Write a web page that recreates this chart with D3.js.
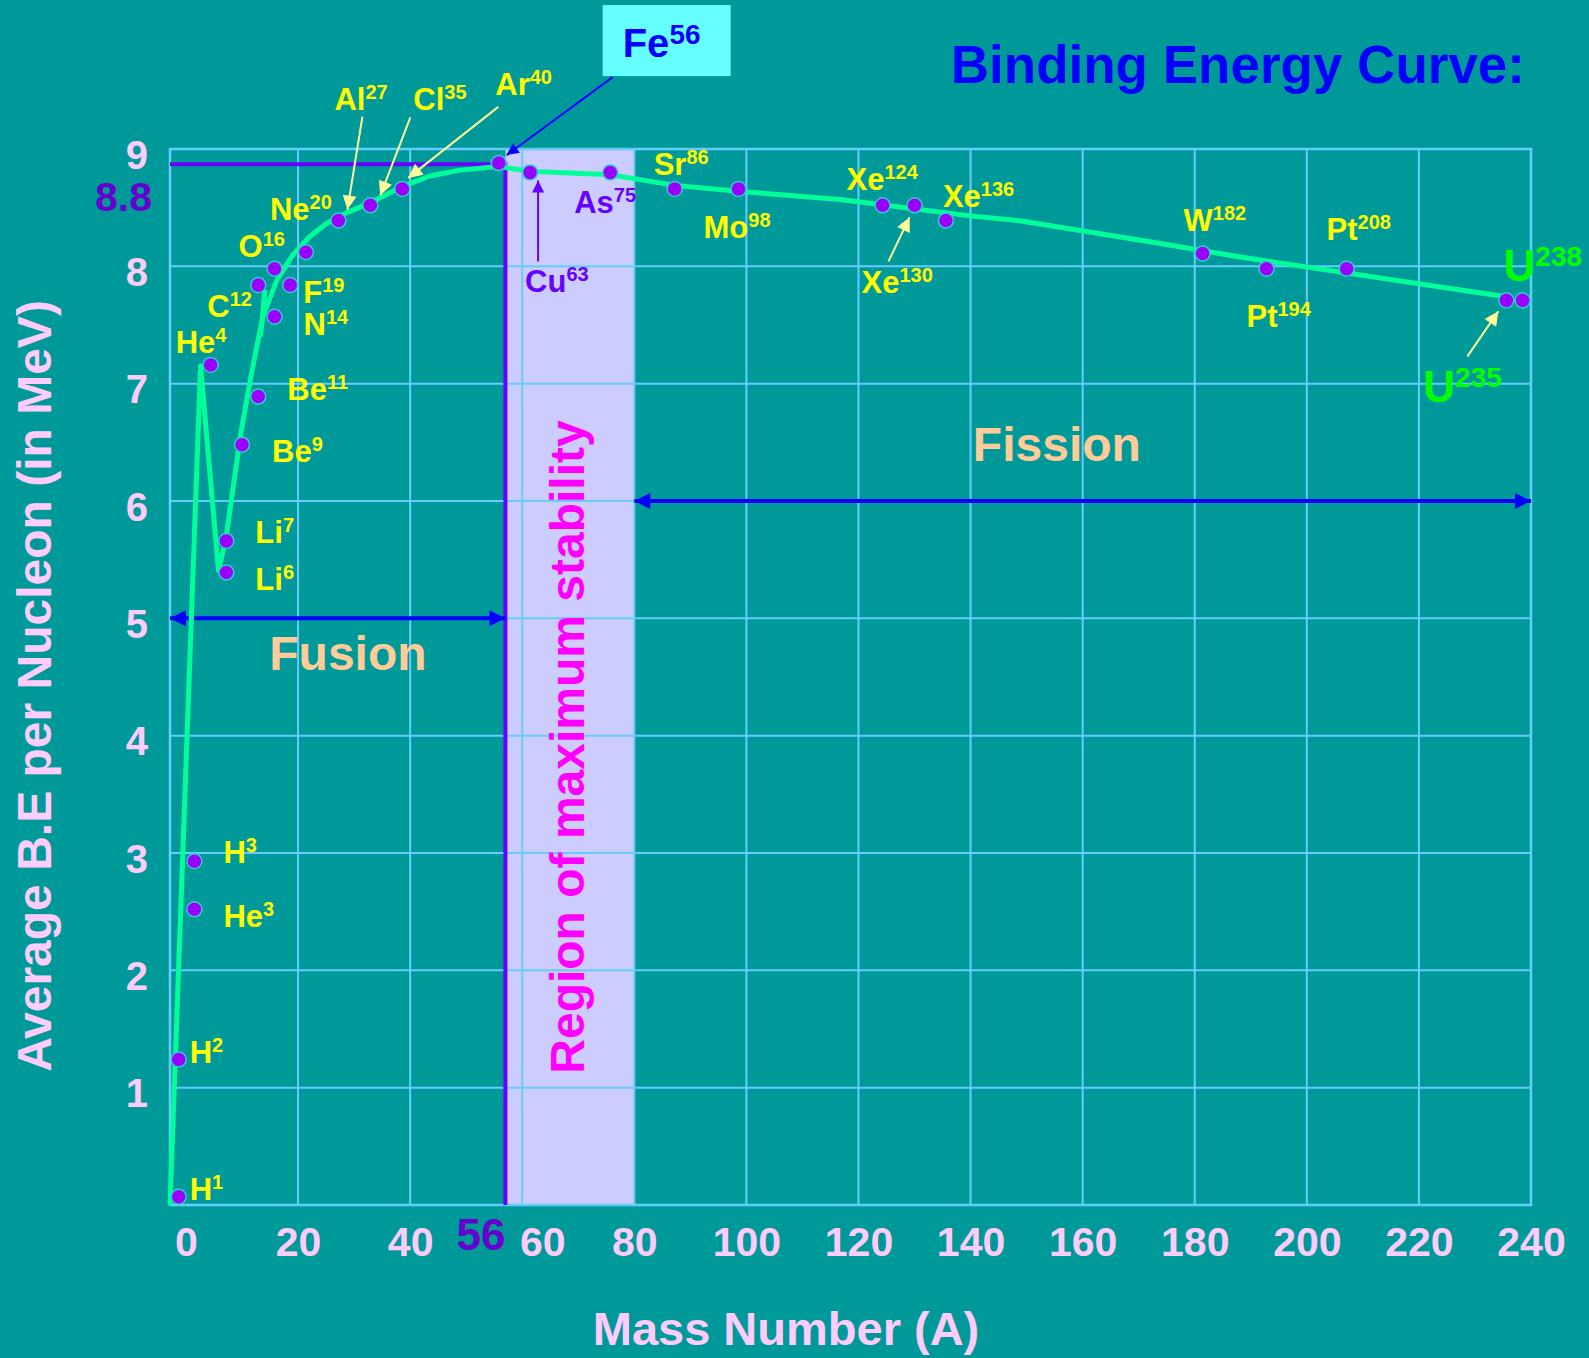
<!DOCTYPE html>
<html>
<head>
<meta charset="utf-8">
<script src="https://cdn.jsdelivr.net/npm/d3@7"></script>
<style>
  body { margin: 0; background: #009999; }
  svg { display: block; font-family: "Liberation Sans", Arial, sans-serif; font-weight: bold; }
</style>
</head>
<body>
<svg id="chart" width="1589" height="1358"></svg>
<script>
// isotopes shown on the curve
var elements = ["H", "H", "H", "He", "He", "Li", "Li", "Be", "Be", "C", "N", "O", "F", "Ne", "Al", "Cl", "Ar",
  "Fe", "Cu", "As", "Sr", "Mo", "Xe", "Xe", "Xe", "W", "Pt", "Pt", "U", "U"];
var massNumbers = [1, 2, 3, 3, 4, 6, 7, 9, 11, 12, 14, 16, 19, 20, 27, 35, 40,
  56, 63, 75, 86, 98, 124, 130, 136, 182, 194, 208, 235, 238];
// where each dot sits along the x axis in the figure
var plotMass = [-1.3, -1.3, 1.5, 1.5, 4.4, 7.2, 7.2, 10.0, 12.9, 12.9, 15.8, 15.8, 18.6, 21.4, 27.2, 32.9, 38.6,
  55.8, 61.4, 75.7, 87.2, 98.6, 124.3, 130.0, 135.6, 181.4, 192.8, 207.1, 235.6, 238.5];
var bindingEnergy = [0.07, 1.24, 2.93, 2.52, 7.16, 5.39, 5.66, 6.48, 6.89, 7.84, 7.57, 7.98, 7.84, 8.12, 8.39, 8.52, 8.66,
  8.88, 8.80, 8.80, 8.66, 8.66, 8.52, 8.52, 8.39, 8.11, 7.98, 7.98, 7.71, 7.71];

// the hand drawn green curve
var curveMass = [-2.85, 2.6, 5.8, 7.1, 9.8, 11.7, 13.7, 16.2, 19.1, 22.0, 25.2, 28.8, 32.8, 38.6, 43.5, 48.9, 55.8,
  61.4, 75.7, 87.2, 98.6, 116.7, 139.9, 148.5, 172, 188.1, 235.5];
var curveEnergy = [0, 7.15, 5.41, 5.67, 6.58, 7.09, 7.57, 7.88, 8.10, 8.25, 8.37, 8.46, 8.54, 8.68, 8.77, 8.82, 8.85,
  8.81, 8.78, 8.69, 8.64, 8.57, 8.43, 8.39, 8.21, 8.08, 7.74];
var stubMass = [13.3, 14.1];
var stubEnergy = [7.4, 7.8];

var xTicks = [0, 20, 40, 60, 80, 100, 120, 140, 160, 180, 200, 220, 240];
var yTicks = [1, 2, 3, 4, 5, 6, 7, 8, 9];
var peakEnergy = 8.87;
var ironLine = 57, stableEnd = 80;

var svg = d3.select("#chart"),
  W = +svg.attr("width"), H = +svg.attr("height");

var x = d3.scaleLinear().domain([-2.85, 240]).range([170, 1531]);
var y = d3.scaleLinear().domain([0, 9]).range([1205, 149]);

var grid = "#66ccff", pink = "#ffccff", purple = "#6600ff", yellow = "#ffff00", pale = "#ffff99";

svg.append("rect").attr("width", W).attr("height", H).attr("fill", "#009999");

// arrow heads
var defs = svg.append("defs");
function head(id, color, w, h) {
  defs.append("marker").attr("id", id)
    .attr("viewBox", "0 0 10 10").attr("refX", 10).attr("refY", 5)
    .attr("markerUnits", "userSpaceOnUse")
    .attr("markerWidth", w).attr("markerHeight", h)
    .attr("orient", "auto-start-reverse")
    .append("path").attr("d", "M0,0L10,5L0,10z").attr("fill", color);
}
head("big", "#0000ff", 18, 16);
head("blue", "#0000ff", 16, 12);
head("purp", purple, 14, 12);
head("pale", pale, 16, 14);

// region of maximum stability
svg.append("rect")
  .attr("x", x(ironLine)).attr("y", y(9))
  .attr("width", x(stableEnd) - x(ironLine)).attr("height", y(0) - y(9))
  .attr("fill", "#ccccff");

// grid
svg.append("g").selectAll("line").data(xTicks.slice(1, -1)).enter().append("line")
  .attr("x1", x).attr("x2", x).attr("y1", y(0)).attr("y2", y(9))
  .attr("stroke", grid).attr("stroke-width", 2);
svg.append("g").selectAll("line").data(yTicks.slice(0, -1)).enter().append("line")
  .attr("x1", x(-2.85)).attr("x2", x(240)).attr("y1", y).attr("y2", y)
  .attr("stroke", grid).attr("stroke-width", 2);
svg.append("rect")
  .attr("x", x(-2.85)).attr("y", y(9))
  .attr("width", x(240) - x(-2.85)).attr("height", y(0) - y(9))
  .attr("fill", "none").attr("stroke", grid).attr("stroke-width", 2.5);

// axes
var xAxis = svg.append("g").attr("transform", "translate(0," + y(0) + ")")
  .call(d3.axisBottom(x).tickValues(xTicks).tickSize(0).tickPadding(22));
var yAxis = svg.append("g").attr("transform", "translate(" + x(-2.85) + ",0)")
  .call(d3.axisLeft(y).tickValues(yTicks).tickSize(0).tickPadding(22));
[xAxis, yAxis].forEach(function(a) {
  a.select(".domain").remove();
  a.selectAll("text").attr("fill", pink).attr("font-family", "Liberation Sans, Arial, sans-serif")
    .attr("font-weight", "bold");
});
xAxis.selectAll("text").attr("font-size", 41)
  .attr("dx", function(d) { return d === 60 ? 20 : 0; });
yAxis.selectAll("text").attr("font-size", 40).attr("dy", "0.48em");

svg.append("text").attr("x", x(ironLine)).attr("y", 1250)
  .attr("text-anchor", "end").attr("font-size", 44).attr("fill", "#6600cc").text("56");
svg.append("text").attr("x", 152).attr("y", y(peakEnergy) + 47)
  .attr("text-anchor", "end").attr("font-size", 41).attr("fill", "#6600cc").text("8.8");

// axis titles
svg.append("text").attr("x", 786).attr("y", 1345)
  .attr("text-anchor", "middle").attr("font-size", 47).attr("fill", pink).text("Mass Number (A)");
svg.append("text").attr("transform", "translate(51,686)rotate(-90)")
  .attr("text-anchor", "middle").attr("font-size", 48).attr("fill", pink)
  .text("Average B.E per Nucleon (in MeV)");
svg.append("text").attr("x", 1525).attr("y", 83)
  .attr("text-anchor", "end").attr("font-size", 53).attr("fill", "#0000ff").text("Binding Energy Curve:");

// peak markers
svg.append("line")
  .attr("x1", x(-2.85)).attr("x2", x(ironLine) - 3).attr("y1", y(peakEnergy)).attr("y2", y(peakEnergy))
  .attr("stroke", purple).attr("stroke-width", 4);
svg.append("line")
  .attr("x1", x(ironLine)).attr("x2", x(ironLine)).attr("y1", y(peakEnergy) - 2).attr("y2", y(0))
  .attr("stroke", purple).attr("stroke-width", 4);

svg.append("text").attr("transform", "translate(584,747)rotate(-90)")
  .attr("text-anchor", "middle").attr("font-size", 48).attr("fill", "#ff00ff")
  .text("Region of maximum stability");

// fusion / fission
svg.append("line")
  .attr("x1", x(-2.85)).attr("x2", x(ironLine)).attr("y1", y(5)).attr("y2", y(5))
  .attr("stroke", "#0000ff").attr("stroke-width", 4)
  .attr("marker-start", "url(#big)").attr("marker-end", "url(#big)");
svg.append("line")
  .attr("x1", x(stableEnd)).attr("x2", x(240)).attr("y1", y(6)).attr("y2", y(6))
  .attr("stroke", "#0000ff").attr("stroke-width", 4)
  .attr("marker-start", "url(#big)").attr("marker-end", "url(#big)");
svg.append("text").attr("x", x(28.9)).attr("y", 670).attr("text-anchor", "middle")
  .attr("font-size", 48).attr("fill", "#ffcc99").text("Fusion");
svg.append("text").attr("x", x(155.4)).attr("y", 461).attr("text-anchor", "middle")
  .attr("font-size", 48).attr("fill", "#ffcc99").text("Fission");

// curve
var line = d3.line()
  .x(function(d) { return x(d[0]); })
  .y(function(d) { return y(d[1]); });
svg.append("path").datum(d3.zip(curveMass, curveEnergy)).attr("d", line)
  .attr("fill", "none").attr("stroke", "#00ff99").attr("stroke-width", 5).attr("stroke-linejoin", "round");
svg.append("path").datum(d3.zip(stubMass, stubEnergy)).attr("d", line)
  .attr("fill", "none").attr("stroke", "#00ff99").attr("stroke-width", 5);

// points
var pts = elements.map(function(e, i) {
  return { el: e, a: massNumbers[i], px: x(plotMass[i]), py: y(bindingEnergy[i]) };
});
svg.append("g").selectAll("circle").data(pts).enter().append("circle")
  .attr("cx", function(d) { return d.px; }).attr("cy", function(d) { return d.py; })
  .attr("r", 7.5).attr("fill", "#9900ff").attr("stroke", "#33cccc").attr("stroke-width", 1.5);

// label placement: [dx, dy] from the dot to the label's left baseline
var labelPos = [[11, 3], [11, 3], [29, 2], [29, 18], [-35, -12], [29, 17], [29, 2], [30, 17], [29, 3],
  [-51, 32], [29, 18], [-36, -12], [13, 18], [-36, -32], [-4, -111], [43, -95], [93, -94],
  null, [-5, 120], [-36, 41], [-21, -14], [-35, 49], [-36, -15], [-53, 88], [-3, -14],
  [-19, -22], [-20, 58], [-20, -29], [-83, 102], [-19, -19]];

pts.forEach(function(d, i) {
  var p = labelPos[i];
  if (!p) return;
  var color = yellow, big = 31, small = 20, rise = -11;
  if (d.el === "Cu" || d.el === "As") color = purple;
  if (d.el === "U") { color = "#00ff00"; big = 44; small = 28; rise = -15; }
  var t = svg.append("text").attr("x", d.px + p[0]).attr("y", d.py + p[1])
    .attr("font-size", big).attr("fill", color);
  t.append("tspan").text(d.el);
  t.append("tspan").attr("font-size", small).attr("dy", rise).text(d.a);
});

// pointer arrows: [index, tail dx, tail dy, tip dx, tip dy]
var pointers = [[14, 24, -104, 9, -11], [15, 40, -88, 10, -10], [16, 96, -82, 6, -11],
  [23, -26, 56, -5, 12], [28, -39, 56, -8, 11]];
pointers.forEach(function(p) {
  var d = pts[p[0]];
  svg.append("line")
    .attr("x1", d.px + p[1]).attr("y1", d.py + p[2]).attr("x2", d.px + p[3]).attr("y2", d.py + p[4])
    .attr("stroke", pale).attr("stroke-width", 2).attr("marker-end", "url(#pale)");
});

var cu = pts[18];
svg.append("line")
  .attr("x1", cu.px + 8).attr("y1", cu.py + 89).attr("x2", cu.px + 8).attr("y2", cu.py + 8)
  .attr("stroke", purple).attr("stroke-width", 2).attr("marker-end", "url(#purp)");

// Fe56 call-out
var fe = pts[17];
svg.append("line")
  .attr("x1", fe.px + 114).attr("y1", fe.py - 86).attr("x2", fe.px + 8).attr("y2", fe.py - 8)
  .attr("stroke", "#0000ff").attr("stroke-width", 2).attr("marker-end", "url(#blue)");
svg.append("rect").attr("x", fe.px + 104).attr("y", fe.py - 158).attr("width", 128).attr("height", 71)
  .attr("fill", "#66ffff");
var ft = svg.append("text").attr("x", fe.px + 124).attr("y", fe.py - 106)
  .attr("font-size", 40).attr("fill", "#0000ff");
ft.append("tspan").text(fe.el);
ft.append("tspan").attr("font-size", 28).attr("dy", -13).text(fe.a);
</script>
</body>
</html>
